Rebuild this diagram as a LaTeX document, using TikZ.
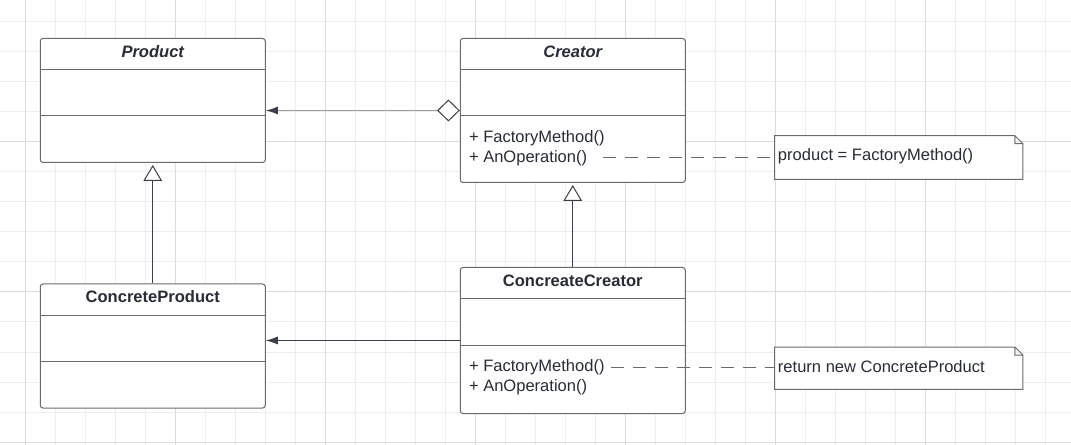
\documentclass[tikz,border=0pt]{standalone}
\usepackage{fontspec}
\setmainfont{Liberation Sans}
\usetikzlibrary{arrows.meta,positioning}
\definecolor{gridminor}{HTML}{EEEEEE}
\definecolor{gridmajor}{HTML}{DCDCDC}
\definecolor{linegray}{HTML}{6A6A6A}
\definecolor{textnavy}{HTML}{282C36}
\definecolor{arrowdark}{HTML}{3A3F4A}
\definecolor{agggray}{HTML}{9C9C9C}
\begin{document}
\begin{tikzpicture}[x=0.75pt,y=-0.75pt,
    font=\fontsize{12.4pt}{15pt}\selectfont,text=textnavy,
    classbox/.style={draw=linegray,fill=white,line width=0.75pt,rounded corners=2pt,minimum width=168.75pt,inner sep=0pt},
    clsname/.style={font=\fontsize{12.4pt}{15pt}\selectfont\bfseries,inner sep=0pt},
    member/.style={inner sep=0pt,anchor=west},
    notebox/.style={minimum width=185.8pt,inner sep=0pt},
    notetext/.style={inner sep=0pt,anchor=west},
    sepline/.style={draw=linegray,line width=0.75pt},
    dashline/.style={draw=linegray,line width=0.75pt,dash pattern=on 9.75pt off 6.75pt},
    assoc/.style={draw=arrowdark,line width=0.75pt,-{Latex[length=9pt,width=6pt]}},
    aggreg/.style={draw=agggray,line width=1pt,{Diamond[length=17pt,width=16.5pt,fill=white,color=arrowdark,line width=0.75pt]}-{Latex[length=9pt,width=6pt,color=arrowdark]}},
    inherit/.style={draw=arrowdark,line width=0.75pt,-{Triangle[length=12pt,width=14pt,fill=white,line width=0.75pt]},shorten >=1.5pt}]
    \useasboundingbox (0,0) rectangle (1071,445);
    % 背景のグリッド
    \fill[white] (0,0) rectangle (1071,445);
    \foreach \x in {25,55,...,1075} \draw[gridminor,line width=0.75pt] (\x,0) -- (\x,445);
    \foreach \y in {22,52,...,442} \draw[gridminor,line width=0.75pt] (0,\y) -- (1071,\y);
    \foreach \x in {25,175,...,1075} \draw[gridmajor,line width=0.75pt] (\x,0) -- (\x,445);
    \foreach \y in {142,292,442} \draw[gridmajor,line width=0.75pt] (0,\y) -- (1071,\y);
    % クラス
    \node[classbox,minimum height=93pt] (prod) at (152.75,100.5) {};
    \node[classbox,minimum height=108pt] (crea) at (572.75,110.5) {};
    \node[classbox,minimum height=93pt] (cprod) at (152.75,346) {};
    \node[classbox,minimum height=109.5pt] (ccrea) at (572.75,340.5) {};
    \foreach \c in {prod,crea,cprod,ccrea} {
        \draw[sepline] ([yshift=-24pt]\c.north west) -- ([yshift=-24pt]\c.north east);
        \draw[sepline] ([yshift=-58.5pt]\c.north west) -- ([yshift=-58.5pt]\c.north east);
    }
    % クラス名
    \node[clsname,font=\fontsize{12.4pt}{15pt}\selectfont\bfseries\itshape] (prodname) at ([yshift=-10.5pt]prod.north) {Product};
    \node[clsname,font=\fontsize{12.4pt}{15pt}\selectfont\bfseries\itshape] (creaname) at ([yshift=-10.5pt]crea.north) {Creator};
    \node[clsname] (cprodname) at ([yshift=-10pt]cprod.north) {ConcreteProduct};
    \node[clsname] (ccreaname) at ([yshift=-10.5pt]ccrea.north) {ConcreateCreator};
    % メソッド
    \node[member] (creafm) at ([xshift=6.75pt,yshift=-75pt]crea.north west) {+ FactoryMethod()};
    \node[member] (creaop) at ([xshift=6.75pt,yshift=-90pt]crea.north west) {+ AnOperation()};
    \node[member] (ccreafm) at ([xshift=6.75pt,yshift=-75.5pt]ccrea.north west) {+ FactoryMethod()};
    \node[member] (ccreaop) at ([xshift=6.75pt,yshift=-90.5pt]ccrea.north west) {+ AnOperation()};
    % ノート（右上を折る）
    \node[notebox,minimum height=32.25pt] (prodnote) at (898.85,157.5) {};
    \node[notebox,minimum height=31.3pt] (retnote) at (898.85,368.15) {};
    \foreach \n in {prodnote,retnote}
        \draw[linegray,line width=0.75pt,fill=white] (\n.south west) -- (\n.north west)
            -- ([xshift=-6pt]\n.north east) -- ([yshift=-6pt]\n.north east) -- (\n.south east) -- cycle
            ([xshift=-6pt]\n.north east) |- ([yshift=-6pt]\n.north east);
    \node[notetext] (prodtext) at ([xshift=2.25pt,yshift=1.2pt]prodnote.west) {product = FactoryMethod()};
    \node[notetext] (rettext) at ([xshift=2.25pt,yshift=1.2pt]retnote.west) {return new ConcreteProduct};
    % 関係
    \draw[aggreg] (crea.west) -- (crea.west -| prod.east);
    \draw[assoc] (ccrea.west) -- (ccrea.west -| cprod.east);
    \draw[inherit] (cprod.north) -- (prod.south);
    \draw[inherit] (ccrea.north) -- (crea.south);
    \draw[dashline,shorten <=12pt] (creaop.east) -- (creaop.east -| prodnote.west);
    \draw[dashline,shorten <=4.5pt] (ccreafm.east) -- (ccreafm.east -| retnote.west);
\end{tikzpicture}
\end{document}
